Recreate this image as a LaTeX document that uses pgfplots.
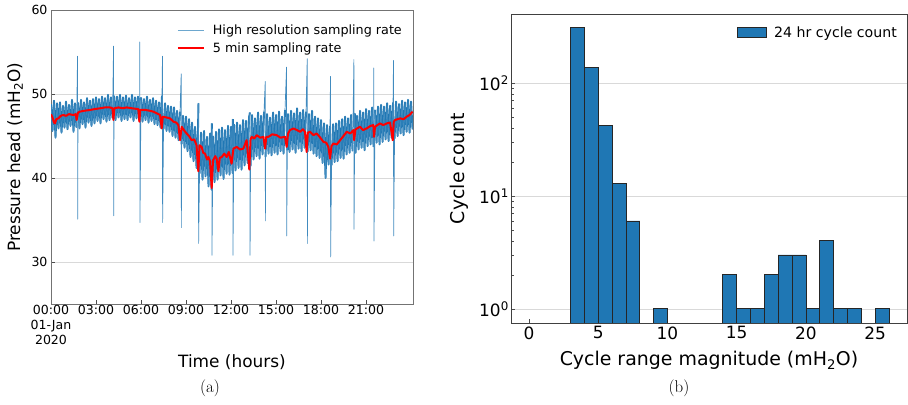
\documentclass[border=0pt]{standalone}
\usepackage{pgfplots}
\pgfplotsset{compat=1.18}
\usepackage{fontspec}
\newfontfamily\dv{DejaVu Sans}
\definecolor{mplblue}{RGB}{31,119,180}
\newcommand{\tk}{\dv\fontsize{12.6}{15}\selectfont}
\newcommand{\lga}{\dv\fontsize{12.8}{15}\selectfont}
\newcommand{\lb}{\dv\fontsize{17}{20}\selectfont}
\newcommand{\tkb}{\dv\fontsize{17}{20}\selectfont}
\newcommand{\lbb}{\dv\fontsize{19}{22}\selectfont}
\newcommand{\lgb}{\dv\fontsize{14.2}{17}\selectfont}

\pgfplotstableread{
t v
0.0 48.8
0.1 45.6
0.2 49.2
0.3 44.8
0.4 48.9
0.5 45.9
0.6 49.0
0.7 45.4
0.8 48.6
0.9 46.0
1.0 49.1
1.1 45.8
1.2 48.7
1.3 46.2
1.4 49.3
1.5 45.5
1.6 48.9
1.7 46.0
1.77 54.5
1.78 35.1
1.8 49.0
1.9 45.9
2.0 49.3
2.1 46.4
2.2 49.0
2.3 46.0
2.4 49.5
2.5 46.6
2.6 49.2
2.7 46.2
2.8 49.4
2.9 46.5
3.0 49.6
3.1 46.8
3.2 49.4
3.3 46.5
3.4 49.7
3.5 47.0
3.6 49.5
3.7 46.7
3.8 49.9
3.9 46.9
4.0 49.6
4.1 47.1
4.17 55.7
4.18 35.5
4.2 49.8
4.3 46.9
4.4 49.7
4.5 47.2
4.6 49.9
4.7 46.8
4.8 49.6
4.9 47.0
5.0 49.8
5.1 46.9
5.2 49.5
5.3 47.2
5.4 49.9
5.5 46.8
5.6 49.6
5.7 47.1
5.8 49.7
5.9 46.8
5.92 56.2
5.93 34.7
6.0 49.6
6.1 46.7
6.2 49.4
6.3 46.9
6.4 49.7
6.5 46.6
6.6 49.3
6.7 46.8
6.8 49.5
6.9 46.4
7.0 49.2
7.1 46.3
7.2 49.0
7.3 46.0
7.4 49.8
7.43 54.5
7.44 34.7
7.5 45.8
7.6 48.9
7.7 45.6
7.8 48.6
7.9 45.5
8.0 48.5
8.1 45.0
8.2 48.4
8.3 44.8
8.4 48.0
8.5 44.5
8.6 47.9
8.68 52.4
8.69 34.1
8.7 44.0
8.8 47.4
8.9 43.6
9.0 47.3
9.1 43.2
9.2 47.0
9.3 42.5
9.4 46.6
9.5 42.0
9.6 46.1
9.7 41.2
9.8 45.8
9.83 48.9
9.84 32.2
9.9 40.5
10.0 45.4
10.1 39.8
10.2 45.6
10.3 40.2
10.4 44.9
10.5 39.0
10.6 45.3
10.7 38.6
10.72 46.5
10.73 30.8
10.8 45.0
10.9 39.5
11.0 45.5
11.1 39.8
11.2 45.8
11.3 40.3
11.4 46.0
11.5 39.9
11.6 45.7
11.7 40.5
11.8 46.2
11.9 40.4
12.0 46.1
12.1 40.6
12.12 47.0
12.13 30.8
12.2 46.4
12.3 40.9
12.4 46.6
12.5 41.2
12.6 46.3
12.7 41.0
12.8 46.9
12.9 41.5
13.0 46.8
13.1 41.8
13.2 47.2
13.26 47.8
13.27 30.8
13.3 41.4
13.4 47.5
13.5 42.2
13.6 47.1
13.7 42.6
13.8 47.8
13.9 42.3
14.0 47.4
14.1 42.8
14.2 47.9
14.28 51.5
14.29 34.9
14.3 42.5
14.4 47.6
14.5 42.9
14.6 47.2
14.7 42.7
14.8 47.8
14.9 43.0
15.0 47.5
15.1 42.8
15.2 47.9
15.3 43.2
15.4 47.3
15.5 42.9
15.6 48.1
15.7 53.2
15.71 33.1
15.75 43.3
15.8 47.6
15.9 43.1
16.0 48.0
16.1 43.4
16.2 47.7
16.3 43.0
16.4 48.3
16.5 43.5
16.6 47.8
16.7 43.2
16.8 48.1
16.9 43.6
17.0 47.9
17.08 54.2
17.09 32.2
17.1 43.1
17.2 47.6
17.3 43.3
17.4 48.0
17.5 42.9
17.6 47.3
17.7 42.6
17.8 47.1
17.9 42.4
18.0 46.9
18.1 41.8
18.2 46.5
18.3 40.0
18.4 46.3
18.5 41.6
18.6 46.2
18.63 52.1
18.64 30.6
18.7 41.5
18.8 46.4
18.9 41.9
19.0 46.5
19.1 42.0
19.2 46.8
19.3 42.4
19.4 47.0
19.5 42.3
19.6 47.3
19.7 42.8
19.8 47.1
19.9 43.0
20.0 47.5
20.1 43.2
20.19 54.1
20.2 33.9
20.25 47.7
20.3 43.0
20.4 47.4
20.5 43.4
20.6 48.0
20.7 43.6
20.8 47.8
20.9 43.3
21.0 48.2
21.1 43.8
21.2 48.0
21.3 44.0
21.4 48.4
21.5 43.7
21.52 53.1
21.53 32.5
21.6 48.1
21.7 44.2
21.8 48.5
21.9 44.0
22.0 48.7
22.1 44.3
22.2 48.5
22.3 44.6
22.4 48.9
22.5 44.4
22.6 48.6
22.7 44.8
22.8 49.0
22.83 54.0
22.84 33.1
22.9 44.7
23.0 49.1
23.1 45.0
23.2 48.8
23.3 45.3
23.4 49.2
23.5 45.1
23.6 49.0
23.7 45.5
23.8 49.3
23.9 45.4
24.0 49.1
24.1 45.8
}\highres

\pgfplotstableread{
t v
0.0 47.6
0.1 47.2
0.2 46.6
0.27 46.5
0.35 47.0
0.49 47.1
0.65 47.4
0.82 47.5
1.0 47.4
1.2 47.6
1.49 47.5
1.65 47.6
1.71 46.9
1.8 47.8
1.93 47.9
2.2 48.0
2.6 48.1
2.9 48.2
3.27 48.3
3.6 48.4
3.93 48.4
4.1 48.3
4.16 46.9
4.22 48.3
4.5 48.4
4.8 48.3
5.04 48.4
5.4 48.3
5.82 48.2
5.89 46.7
5.95 48.1
6.3 48.1
6.6 48.0
6.82 47.9
7.05 47.7
7.27 47.5
7.38 45.9
7.45 47.3
7.7 47.2
7.93 47.1
8.16 46.7
8.35 46.6
8.49 46.3
8.6 44.5
8.71 46.1
8.9 45.6
9.04 45.3
9.2 45.0
9.38 44.5
9.55 44.6
9.7 43.9
9.82 40.8
9.9 43.9
10.04 43.7
10.15 43.0
10.27 42.9
10.4 42.2
10.49 42.5
10.6 42.0
10.71 38.8
10.8 42.1
10.95 42.6
11.04 42.3
11.16 40.8
11.25 42.4
11.38 42.5
11.55 42.9
11.71 42.5
11.85 43.1
12.04 41.7
12.16 43.5
12.38 43.7
12.6 43.4
12.82 43.5
13.04 44.5
13.22 41.0
13.3 44.6
13.38 44.9
13.55 44.7
13.71 45.1
13.95 44.8
14.16 44.9
14.27 43.5
14.35 44.9
14.49 44.9
14.75 45.2
15.04 45.1
15.3 44.8
15.6 44.9
15.71 43.7
15.8 45.3
15.93 45.7
16.16 45.9
16.4 45.7
16.6 45.5
16.8 45.8
16.93 45.5
17.04 43.1
17.12 45.4
17.27 45.5
17.5 45.1
17.71 45.3
17.95 44.8
18.16 44.3
18.35 44.2
18.49 43.7
18.6 42.3
18.7 43.8
18.82 44.1
19.05 44.0
19.27 44.5
19.5 45.0
19.71 45.5
19.95 45.3
20.16 45.7
20.2 44.5
20.3 45.8
20.6 46.1
20.8 45.7
21.04 45.9
21.3 46.2
21.49 46.3
21.53 44.9
21.6 46.1
21.93 46.5
22.15 46.3
22.38 46.5
22.6 46.6
22.78 44.5
22.85 46.7
22.93 46.9
23.27 47.1
23.5 47.0
23.71 47.3
23.9 47.5
24.1 47.9
}\fivemin

\pgfplotstableread{
x c
3.5 312
4.5 138
5.5 42
6.5 13
7.5 6
9.5 1
14.5 2
15.5 1
16.5 1
17.5 2
18.5 3
19.5 3
20.5 1
21.5 4
22.5 1
23.5 1
25.5 1
}\cycles

\begin{document}
\begin{tikzpicture}
\useasboundingbox (0,0) rectangle (908bp,405bp);
\begin{axis}[
  at={(51bp,101bp)}, anchor=south west,
  scale only axis, width=362bp, height=294bp,
  xmin=0, xmax=24.13, ymin=25, ymax=60,
  xtick={0,3,...,21},
  xticklabels={{00:00\\01-Jan\\2020},03:00,06:00,09:00,12:00,15:00,18:00,21:00},
  xticklabel style={align=center, font=\tk, inner sep=1bp},
  ytick={30,40,50,60},
  yticklabel style={font=\tk},
  /pgf/number format/assume math mode=true,
  tick align=inside, xtick pos=lower, ytick pos=left,
  major tick length=4bp,
  ymajorgrids, grid style={black!15, line width=0.7bp},
  axis line style={black!55, line width=0.9bp},
  tick style={black!70, line width=0.7bp},
  xlabel={Time (hours)},
  ylabel={Pressure head (mH\textsubscript{2}O)},
  every axis x label/.style={at={(axis description cs:0.5,-0.197)}, anchor=center, font=\lb},
  every axis y label/.style={at={(axis description cs:-0.0994,0.5)}, anchor=center, rotate=90, font=\lb},
  legend style={at={(axis description cs:0.9807,0.9646)}, anchor=north east, draw=none, fill=none,
    font=\lga, inner sep=2bp, row sep=3bp, cells={anchor=west}},
]
% dense core of the high-resolution record (spike extremes excluded here)
\addplot[mplblue, line width=1.9bp, line join=round, restrict y to domain=37:51, forget plot]
  table[x=t, y=v] {\highres};
% full high-resolution record, thin, with its spikes
\addplot[mplblue!85, line width=0.7bp, line join=round,
  legend image code/.code={\draw[mplblue!65, line width=0.7bp] (0bp,0bp) -- (26bp,0bp); \path (32bp,0bp);}]
  table[x=t, y=v] {\highres};
\addlegendentry{High resolution sampling rate}
\addplot[red, line width=2bp, line join=round,
  legend image code/.code={\draw[red, line width=2bp] (0bp,0bp) -- (26bp,0bp); \path (32bp,0bp);}]
  table[x=t, y=v] {\fivemin};
\addlegendentry{5 min sampling rate}
\end{axis}

\begin{axis}[
  at={(511bp,82bp)}, anchor=south west,
  scale only axis, width=396bp, height=309bp,
  ymode=log, log origin y=infty,
  xmin=-1.3, xmax=27.3, ymin=0.75, ymax=408,
  xtick={0,5,...,25},
  ytick={1,10,100},
  yticklabels={10\textsuperscript{0},10\textsuperscript{1},10\textsuperscript{2}},
  xticklabel style={font=\tkb},
  yticklabel style={font=\tkb, inner sep=2bp},
  /pgf/number format/assume math mode=true,
  tick align=inside, xtick pos=lower, ytick pos=left,
  major tick length=4bp, minor tick length=2.5bp,
  ymajorgrids, grid style={black!15, line width=0.7bp},
  axis line style={black!75, line width=0.8bp},
  tick style={black!70, line width=0.7bp},
  xlabel={Cycle range magnitude (mH\textsubscript{2}O)},
  ylabel={Cycle count},
  every axis x label/.style={at={(axis description cs:0.5,-0.12)}, anchor=center, font=\lbb},
  every axis y label/.style={at={(axis description cs:-0.1313,0.5)}, anchor=center, rotate=90, font=\lbb},
  legend style={at={(axis description cs:0.985,0.973)}, anchor=north east, draw=none, fill=none,
    font=\lgb, inner sep=2bp},
]
\addplot[ybar, bar width=1, fill=mplblue, draw=black!85, line width=0.8bp,
  legend image code/.code={\draw[fill=mplblue, draw=black!85, line width=0.8bp] (0bp,-5bp) rectangle (29bp,5bp); \path (34bp,0bp);}]
  table[x=x, y=c] {\cycles};
\addlegendentry{24 hr cycle count}
\end{axis}

\node[font=\fontsize{17}{20}\selectfont] at (210bp,17bp) {(a)};
\node[font=\fontsize{17}{20}\selectfont] at (679bp,17bp) {(b)};
\end{tikzpicture}
\end{document}
